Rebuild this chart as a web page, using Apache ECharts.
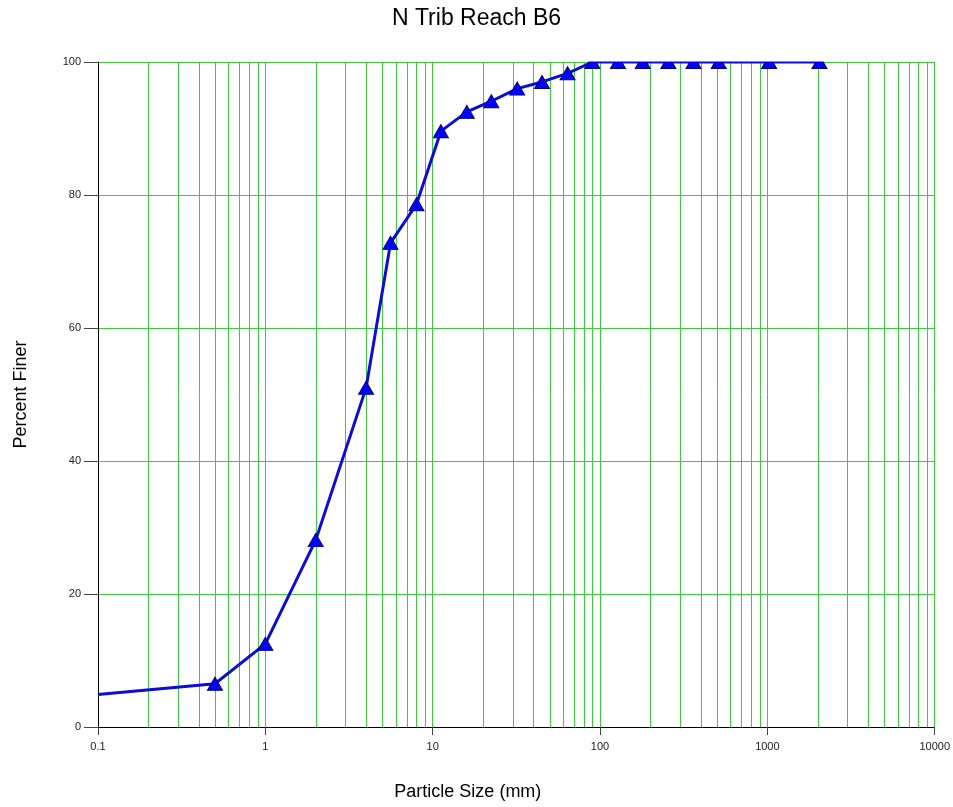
<!DOCTYPE html>
<html>
<head>
<meta charset="utf-8">
<script src="https://cdn.jsdelivr.net/npm/echarts@6/dist/echarts.min.js"></script>
<style>html,body{margin:0;padding:0;background:#fff;}#c{width:953px;height:807px;}</style>
</head>
<body>
<div id="c"></div>
<script>
const sizes = [0.1, 0.5, 1, 2, 4, 5.6, 8, 11.2, 16, 22.4, 32, 45, 64, 90, 128, 180, 256, 362, 512, 1024, 2048];
const percentFiner = [4.9, 6.5, 12.5, 28.1, 51, 72.8, 78.6, 89.6, 92.5, 94.1, 96, 97, 98.3, 100, 100, 100, 100, 100, 100, 100, 100];
const markerShown = [false, true, true, true, true, true, true, true, true, true, true, true, true, true, true, true, true, true, true, true, true];
const minorGridX = [0.2,0.3,0.4,0.5,0.6,0.7,0.8,0.9, 2,3,4,5,6,7,8,9, 20,30,40,50,60,70,80,90, 200,300,400,500,600,700,800,900, 2000,3000,4000,5000,6000,7000,8000,9000];
const yTicks = [0, 20, 40, 60, 80, 100];
const xTickLabels = {0.1:'0.1', 1:'1', 10:'10', 100:'100', 1000:'1000', 10000:'10000'};

const GREEN = '#3fc93f';
const chart = echarts.init(document.getElementById('c'), null, {renderer:'canvas'});
const font = 'Liberation Sans, Arial, sans-serif';
chart.setOption({
  animation: false,
  backgroundColor: '#fff',
  title: {
    text: 'N Trib Reach B6', left: 'center', top: 2,
    textStyle: {fontFamily: font, fontSize: 23, fontWeight: 'normal', color: '#000'}
  },
  grid: {left: 98, right: 18, top: 62, bottom: 80, containLabel: false},
  xAxis: {
    type: 'log', logBase: 10, min: 0.1, max: 10000,
    name: 'Particle Size (mm)', nameLocation: 'middle', nameGap: 56,
    nameTextStyle: {fontFamily: font, fontSize: 18, color: '#000', padding: [0, 97, 0, 0]},
    axisLine: {show: true, onZero: false, lineStyle: {color: '#000', width: 1}},
    axisTick: {show: true, length: 8, lineStyle: {color: '#444'}},
    axisLabel: {fontFamily: font, fontSize: 11, color: '#222', margin: 14,
      formatter: v => xTickLabels[v] !== undefined ? xTickLabels[v] : String(v)},
    splitLine: {show: true, lineStyle: {color: GREEN, width: 1}},
    minorTick: {show: false}
  },
  yAxis: {
    type: 'value', min: 0, max: 100, interval: 20,
    name: 'Percent Finer', nameLocation: 'middle', nameGap: 68, nameRotate: 90,
    nameTextStyle: {fontFamily: font, fontSize: 18, color: '#000'},
    axisLine: {show: true, lineStyle: {color: '#000', width: 1}},
    axisTick: {show: true, length: 14, lineStyle: {color: '#444'}},
    axisLabel: {fontFamily: font, fontSize: 11, color: '#222', margin: 17,
      formatter: v => yTicks.includes(v) ? String(v) : ''},
    splitLine: {show: true, lineStyle: {color: GREEN, width: 1}}
  },
  graphic: [{
    type: 'rect', z: 100, silent: true,
    shape: {x: 99, y: 40, width: 854, height: 21.5},
    style: {fill: '#fff'}
  }],
  series: [
    {
      type: 'custom', z: 1, silent: true,
      data: minorGridX.map(v => [v]),
      encode: {x: 0},
      renderItem: function (params, api) {
        const v = api.value(0);
        const p0 = api.coord([v, 0]);
        const p1 = api.coord([v, 100]);
        const x = Math.round(p0[0]) + 0.5;
        return {
          type: 'line',
          shape: {x1: x, y1: p0[1], x2: x, y2: p1[1]},
          style: {stroke: GREEN, lineWidth: 1}
        };
      }
    },
    {
      type: 'line', z: 5,
      data: sizes.map((s, i) => ({value: [s, percentFiner[i]], symbol: markerShown[i] ? 'triangle' : 'none'})),
      symbol: 'triangle', symbolSize: [15, 13], showAllSymbol: true,
      lineStyle: {color: '#0c0cd6', width: 3},
      itemStyle: {color: '#0000ff', borderColor: '#00007a', borderWidth: 1},
      emphasis: {disabled: true}
    }
  ]
});
</script>
</body>
</html>
